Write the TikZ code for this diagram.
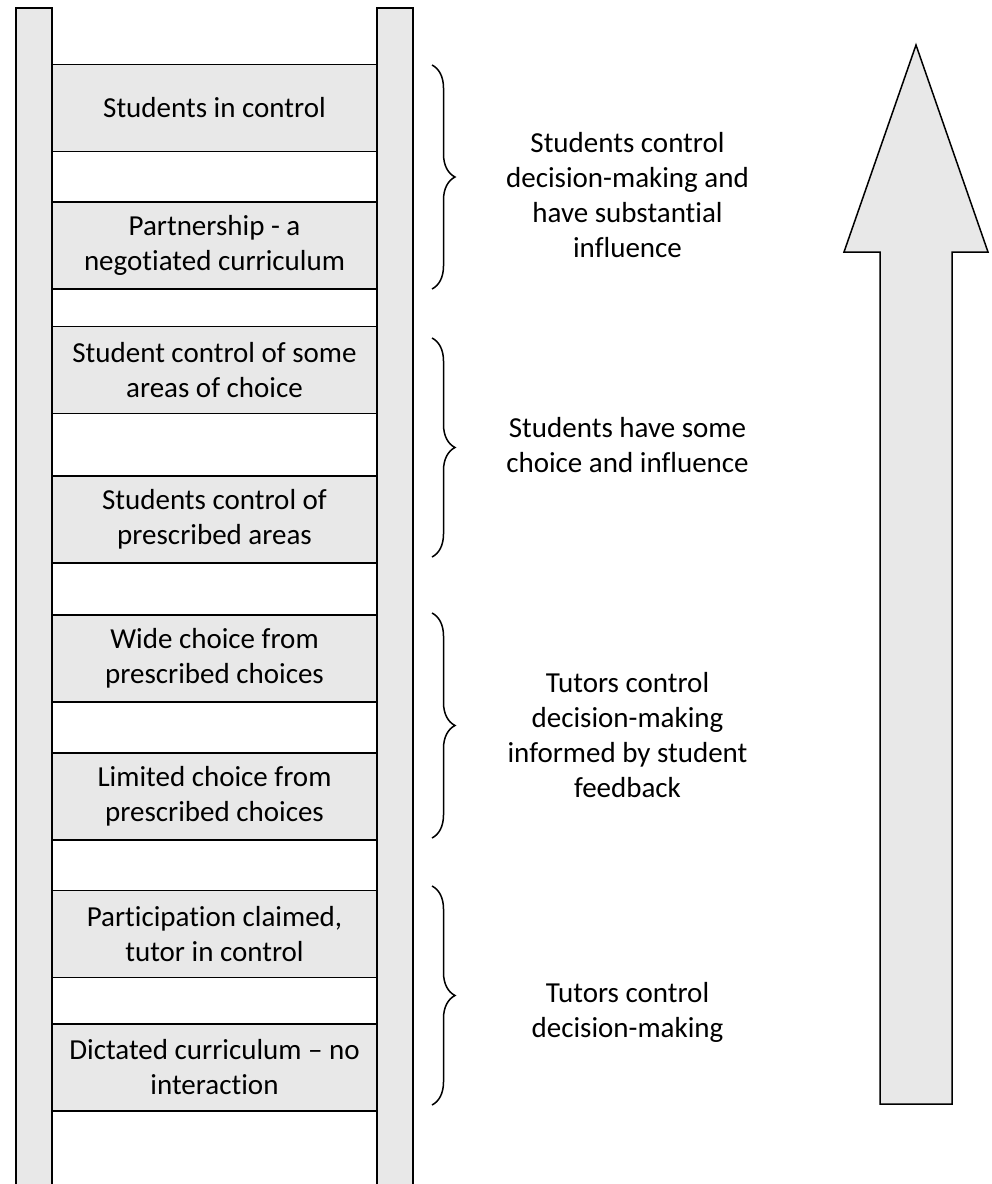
\documentclass[tikz,border=0pt]{standalone}
\usepackage{fontspec}
\setmainfont[Ligatures={NoCommon}]{Carlito}
\usetikzlibrary{decorations.pathreplacing}
\definecolor{boxgray}{HTML}{E8E8E8}
\tikzset{
  rung/.style={draw=black, fill=boxgray, line width=1.5pt, minimum width=325pt, minimum height=87pt, inner sep=0pt, align=center, font=\fontsize{29}{35}\selectfont},
  rail/.style={draw=black, fill=boxgray, line width=1.3pt},
  grouplabel/.style={align=center, inner sep=0pt, font=\fontsize{29}{35}\selectfont},
  bracestyle/.style={draw=black, line width=1.5pt, decorate, decoration={brace, amplitude=23pt}},
  bigarrow/.style={draw=black, fill=boxgray, line width=1.5pt, line join=miter}
}
\begin{document}
\begin{tikzpicture}[x=1pt,y=1pt]
\useasboundingbox (0,0) rectangle (992,-1184);
% rails
\path[rail] (16,-1190) -- (16,-8) -- (52,-8) -- (52,-1190);
\path[rail] (377,-1190) -- (377,-8) -- (413,-8) -- (413,-1190);
% rungs
\node[rung] (r1) at (214.5,-108) {Students in control};
\node[rung] (r2) at (214.5,-245.5) {Partnership - a\\negotiated curriculum};
\node[rung] (r3) at (214.5,-370) {Student control of some\\areas of choice};
\node[rung] (r4) at (214.5,-519.5) {Students control of\\prescribed areas};
\node[rung] (r5) at (214.5,-658.5) {Wide choice from\\prescribed choices};
\node[rung] (r6) at (214.5,-796.5) {Limited choice from\\prescribed choices};
\node[rung] (r7) at (214.5,-934) {Participation claimed,\\tutor in control};
\node[rung] (r8) at (214.5,-1067.5) {Dictated curriculum – no\\interaction};
% braces
\coordinate (b1t) at (432,-65);  \coordinate (b1b) at (432,-289);
\coordinate (b2t) at (432,-338); \coordinate (b2b) at (432,-557);
\coordinate (b3t) at (432,-613); \coordinate (b3b) at (432,-838);
\coordinate (b4t) at (432,-886); \coordinate (b4b) at (432,-1105);
\draw[bracestyle] (b1t) -- (b1b);
\draw[bracestyle] (b2t) -- (b2b);
\draw[bracestyle] (b3t) -- (b3b);
\draw[bracestyle] (b4t) -- (b4b);
% group labels
\node[grouplabel] (g1) at (627.5,-195.5) {Students control\\decision-making and\\have substantial\\influence};
\node[grouplabel] (g2) at (627.5,-445.5) {Students have some\\choice and influence};
\node[grouplabel] (g3) at (627.5,-735.5) {Tutors control\\decision-making\\informed by student\\feedback};
\node[grouplabel] (g4) at (627.5,-1012.5) {Tutors control\\decision-making};
% big arrow
\path[bigarrow] (880,-1104) -- (880,-252) -- (844,-252) -- (916,-45) -- (988,-252) -- (952,-252) -- (952,-1104) -- cycle;
\end{tikzpicture}
\end{document}
